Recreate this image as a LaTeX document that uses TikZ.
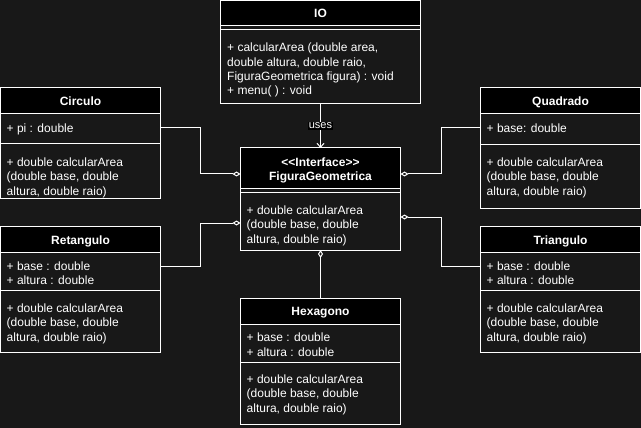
\documentclass[tikz,border=0pt]{standalone}
\usepackage{fontspec}
\setmainfont{Liberation Sans}
\usetikzlibrary{arrows.meta}
\definecolor{bg}{HTML}{181818}
\begin{document}
\begin{tikzpicture}[x=1pt,y=-1pt,
  box/.style={draw=white, line width=1pt, fill=bg, inner sep=0pt, outer sep=0pt, anchor=north west, minimum width=160pt},
  head/.style={box, fill=black},
  txt/.style={text=white, inner sep=0pt, anchor=base west, align=left, font=\fontsize{12}{14.4}\selectfont},
  ttl/.style={text=white, inner sep=0pt, anchor=base, align=center, font=\bfseries\fontsize{12}{14.4}\selectfont},
  conn/.style={draw=white, line width=1pt},
  agg/.style={conn, -{Diamond[length=8pt,width=5pt,fill=bg]}},
  dep/.style={conn, -{Straight Barb[length=4pt,width=7pt]}},
  lbl/.style={fill=black, text=white, inner sep=1pt, font=\fontsize{11}{12}\selectfont}
]
\fill[bg] (0,0) rectangle (641,428);
\useasboundingbox (0,0) rectangle (641,428);

% (multi-line text nodes are placed by the baseline of their last line)
% IO
\node[head, minimum width=200pt, minimum height=25pt] (ioh) at (220.5,0.5) {};
\node[box, minimum width=200pt, minimum height=4.5pt] (ioa) at (220.5,25.5) {};
\node[box, minimum width=200pt, minimum height=74pt] (iom) at (220.5,30) {};
\node[ttl] (iot) at (320.5,18) {IO};
\node[txt] (iomt) at (227,95) {+ calcularArea (double area,\\double altura, double raio,\\FiguraGeometrica figura) : void\\+ menu( ) : void};

% Circulo
\node[head, minimum height=26pt] (cih) at (0.5,88) {};
\node[box, minimum height=30pt] (cia) at (0.5,114) {};
\node[box, minimum height=54pt] (cim) at (0.5,144) {};
\node[ttl] (cit) at (80.5,105.5) {Circulo};
\node[txt] (ciat) at (6.5,132) {+ pi : double};
\node[txt] (cimt) at (6.5,195) {+ double calcularArea\\(double base, double\\altura, double raio)};

% Quadrado
\node[head, minimum height=26pt] (quh) at (480.5,88) {};
\node[box, minimum height=31pt] (qua) at (480.5,114) {};
\node[box, minimum height=63pt] (qum) at (480.5,145) {};
\node[ttl] (qut) at (560.5,105.5) {Quadrado};
\node[txt] (quat) at (486.5,132) {+ base: double};
\node[txt] (qumt) at (486.5,195) {+ double calcularArea\\(double base, double\\altura, double raio)};

% FiguraGeometrica
\node[head, minimum height=40pt] (fgh) at (240.5,148) {};
\node[box, minimum height=4pt] (fga) at (240.5,188) {};
\node[box, minimum height=58pt] (fgm) at (240.5,192) {};
\node[ttl] (fgt1) at (320.5,166.5) {<{}<Interface>{}>};
\node[ttl] (fgt2) at (320.5,180) {FiguraGeometrica};
\node[txt] (fgmt) at (246.5,243) {+ double calcularArea\\(double base, double\\altura, double raio)};

% Retangulo
\node[head, minimum height=26pt] (reh) at (0.5,226.5) {};
\node[box, minimum height=38pt] (rea) at (0.5,252.5) {};
\node[box, minimum height=62pt] (rem) at (0.5,290.5) {};
\node[ttl] (ret) at (80.5,244) {Retangulo};
\node[txt] (reat) at (6.5,284.5) {+ base : double\\+ altura : double};
\node[txt] (remt) at (6.5,341) {+ double calcularArea\\(double base, double\\altura, double raio)};

% Triangulo
\node[head, minimum height=26pt] (trh) at (480.5,226.5) {};
\node[box, minimum height=38pt] (tra) at (480.5,252.5) {};
\node[box, minimum height=62pt] (trm) at (480.5,290.5) {};
\node[ttl] (trt) at (560.5,244) {Triangulo};
\node[txt] (trat) at (486.5,284.5) {+ base : double\\+ altura : double};
\node[txt] (trmt) at (486.5,341) {+ double calcularArea\\(double base, double\\altura, double raio)};

% Hexagono
\node[head, minimum height=26pt] (hxh) at (240.5,298) {};
\node[box, minimum height=38.5pt] (hxa) at (240.5,324) {};
\node[box, minimum height=62pt] (hxm) at (240.5,362.5) {};
\node[ttl] (hxt) at (320.5,315.5) {Hexagono};
\node[txt] (hxat) at (246.5,356) {+ base : double\\+ altura : double};
\node[txt] (hxmt) at (246.5,412) {+ double calcularArea\\(double base, double\\altura, double raio)};

% connectors
\draw[dep] (iom.south) -- (fgh.north) node[lbl, pos=0.5] (uses) {uses};
\draw[agg] ([yshift=-14pt]cia.north east) -- ++(39.5,0) |- (fgh.west |- 0,174);
\draw[agg] ([yshift=-14pt]rea.north east) -- ++(39.5,0) |- (fgm.west |- 0,223);
\draw[agg] ([yshift=-14pt]qua.north west) -- ++(-39.5,0) |- (fgh.east |- 0,174);
\draw[agg] ([yshift=-14pt]tra.north west) -- ++(-39.5,0) |- (fgm.east |- 0,217);
\draw[agg] (hxh.north) -- (fgm.south);
\end{tikzpicture}
\end{document}
